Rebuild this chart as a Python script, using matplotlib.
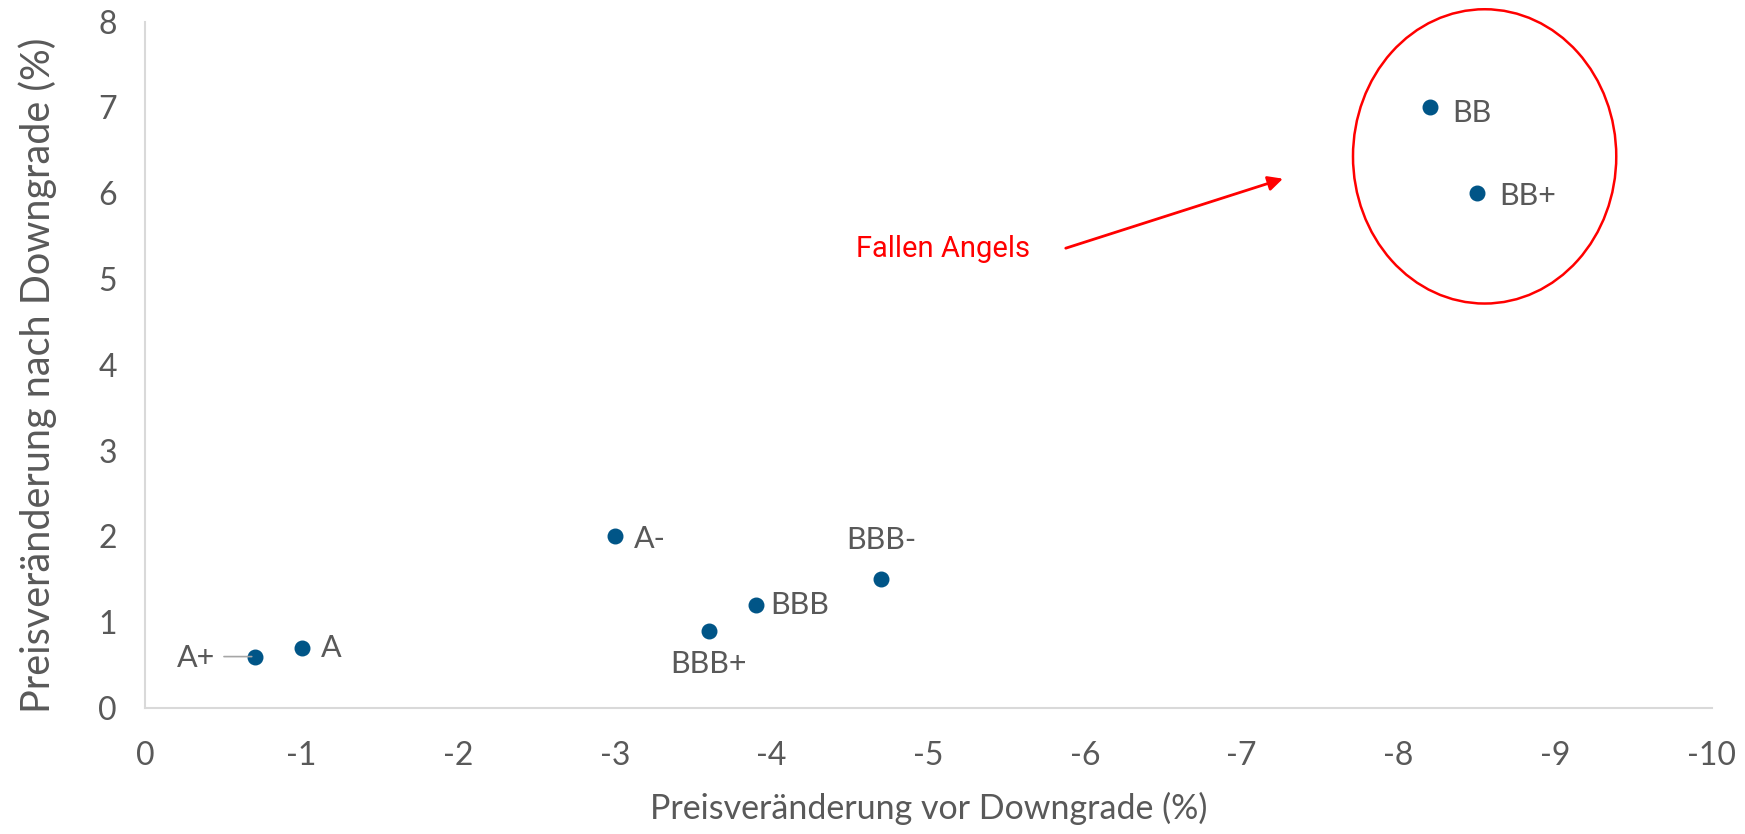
import matplotlib.pyplot as plt
from matplotlib.patches import Ellipse

# Daten: Preisveränderung vor / nach Downgrade
ratings = ['A+', 'A', 'A-', 'BBB+', 'BBB', 'BBB-', 'BB', 'BB+']
vor = [-0.7, -1.0, -3.0, -3.6, -3.9, -4.7, -8.2, -8.5]
nach = [0.6, 0.7, 2.0, 0.9, 1.2, 1.5, 7.0, 6.0]

plt.rcParams['font.family'] = ['Lato', 'DejaVu Sans']
plt.rcParams['axes.unicode_minus'] = False
grau = '#595959'

fig = plt.figure(figsize=(17.45, 8.34), dpi=100)
ax = fig.add_axes([0.083, 0.151, 0.898, 0.823])

ax.scatter(vor, nach, s=110, color='#005587', zorder=3)

# Beschriftungen der Punkte
offsets = {
    'A+': (-28, -1, 'right', 'center'),
    'A': (14, 0, 'left', 'center'),
    'A-': (14, -2, 'left', 'center'),
    'BBB+': (0, -24, 'center', 'center'),
    'BBB': (10, 0, 'left', 'center'),
    'BBB-': (0, 28, 'center', 'center'),
    'BB': (16, -4, 'left', 'center'),
    'BB+': (16, -2, 'left', 'center'),
}
for r, x, y in zip(ratings, vor, nach):
    dx, dy, ha, va = offsets[r]
    ax.annotate(r, (x, y), xytext=(dx, dy), textcoords='offset points',
                ha=ha, va=va, fontsize=22, color=grau)

# Leader line für A+
ax.annotate('', xy=(vor[0], nach[0]), xytext=(-24, 0), textcoords='offset points',
            arrowprops=dict(arrowstyle='-', color='#a6a6a6', lw=1.2))

# Fallen Angels Markierung
ax.add_patch(Ellipse((-8.55, 6.43), 1.68, 3.43, fill=False, edgecolor='red',
                     lw=1.8, clip_on=False))
ax.annotate('', xy=(-7.28, 6.18), xytext=(-5.86, 5.35),
            arrowprops=dict(arrowstyle='-|>', color='red', lw=2, mutation_scale=22))
ax.text(-5.65, 5.35, 'Fallen Angels', color='red', fontsize=21,
        ha='right', va='center', family=['Roboto', 'DejaVu Sans'])

ax.set_xlim(0, -10)
ax.set_ylim(0, 8)
ax.set_xticks(range(0, -11, -1))
ax.set_yticks(range(0, 9))
ax.tick_params(length=0, labelsize=23, labelcolor=grau)
ax.tick_params(axis='x', pad=24)
ax.tick_params(axis='y', pad=20)

for s in ['top', 'right']:
    ax.spines[s].set_visible(False)
for s in ['left', 'bottom']:
    ax.spines[s].set_color('#d9d9d9')
    ax.spines[s].set_linewidth(1.5)

ax.set_xlabel('Preisveränderung vor Downgrade (%)', fontsize=24.5, color=grau)
ax.set_ylabel('Preisveränderung nach Downgrade (%)', fontsize=28.5, color=grau)
ax.xaxis.set_label_coords(0.5, -0.122)
ax.yaxis.set_label_coords(-0.056, 0.485)

plt.savefig('out.png', dpi=100)
